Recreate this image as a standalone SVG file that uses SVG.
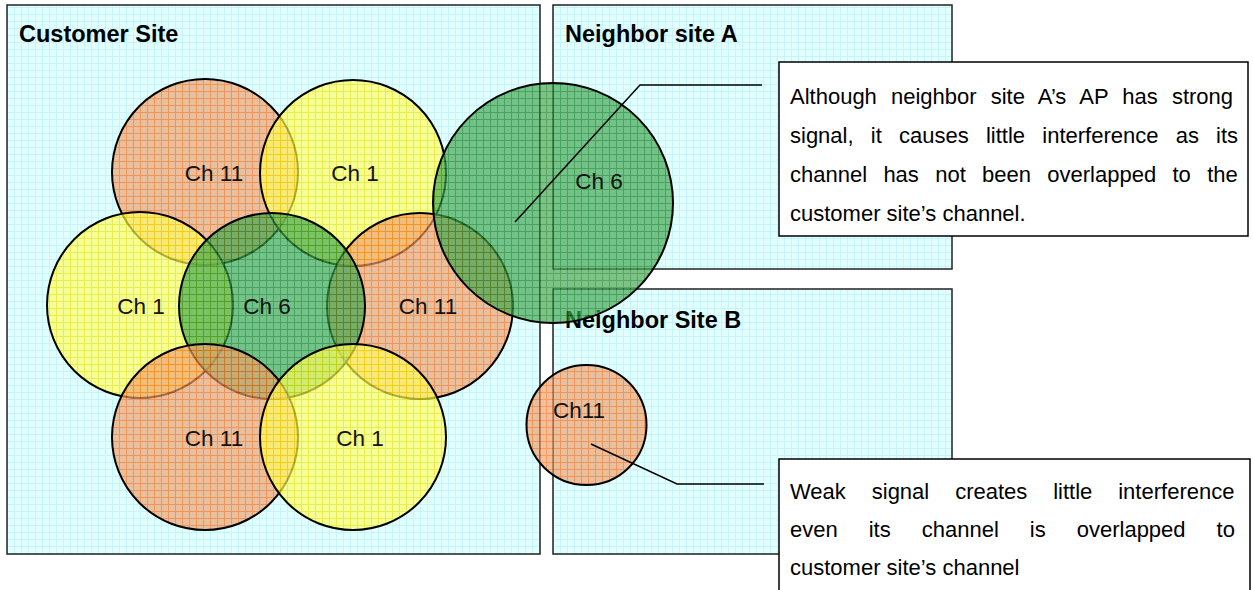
<svg xmlns="http://www.w3.org/2000/svg" width="1253" height="590" viewBox="0 0 1253 590">
<defs>
<pattern id="pBg" width="7" height="7" patternUnits="userSpaceOnUse">
<rect width="7" height="7" fill="#e2ffff"/>
<path d="M0 0.5H7M0.5 0V7" stroke="#c6f4f8" stroke-width="1"/>
</pattern>
<pattern id="pOr" width="7" height="7" patternUnits="userSpaceOnUse">
<rect width="7" height="7" fill="#eea16f"/>
<path d="M0 0.5H7M0.5 0V7" stroke="#ff6a10" stroke-width="1"/>
</pattern>
<pattern id="pYe" width="7" height="7" patternUnits="userSpaceOnUse">
<rect width="7" height="7" fill="#ffff60"/>
<path d="M0 0.5H7M0.5 0V7" stroke="#f8e800" stroke-width="1"/>
</pattern>
<pattern id="pGr" width="7" height="7" patternUnits="userSpaceOnUse">
<rect width="7" height="7" fill="#3fa64f"/>
<path d="M0 0.5H7M0.5 0V7" stroke="#107a18" stroke-width="1"/>
</pattern>
</defs>
<style>
.box{fill:url(#pBg);stroke:#222;stroke-width:1.5}
.title{font-family:"Liberation Sans",Arial,sans-serif;font-size:23.5px;font-weight:bold;fill:#000}
.lbl{font-family:"Liberation Sans",Arial,sans-serif;font-size:22.5px;fill:#111;text-anchor:middle}
.c{stroke:#000;stroke-width:2;fill-opacity:0.68}
.or{fill:url(#pOr)}
.ye{fill:url(#pYe)}
.gr{fill:url(#pGr)}
.call{fill:#fff;stroke:#000;stroke-width:1.5}
.ct{font-family:"Liberation Sans",Arial,sans-serif;font-size:22px;fill:#000}
.lead{fill:none;stroke:#000;stroke-width:1.5}
</style>
<rect width="1253" height="590" fill="#fff"/>
<g id="customer-site"><rect class="box" x="7" y="5" width="533" height="549"/><text class="title" x="19" y="42">Customer Site</text></g>
<g id="neighbor-a"><rect class="box" x="553" y="5" width="399" height="264"/><text class="title" x="565" y="42">Neighbor site A</text></g>
<g id="neighbor-b"><rect class="box" x="553" y="289" width="399" height="265"/><text class="title" x="565" y="328">Neighbor Site B</text></g>
<g id="c-tl"><circle class="c or" cx="205" cy="172" r="93"/></g>
<g id="c-tc"><circle class="c ye" cx="353" cy="173" r="93"/></g>
<g id="c-l"><circle class="c ye" cx="140" cy="305" r="93"/></g>
<g id="c-r"><circle class="c or" cx="420" cy="306" r="93"/></g>
<g id="c-6"><circle class="c gr" cx="272" cy="306" r="93"/></g>
<g id="c-bl"><circle class="c or" cx="205" cy="437" r="93"/></g>
<g id="c-bc"><circle class="c ye" cx="353" cy="437" r="93"/></g>
<g id="c-a"><circle class="c gr" cx="553" cy="203" r="120"/></g>
<g id="c-b"><circle class="c or" cx="586.5" cy="425" r="60"/></g>
<g id="circle-labels">
<text class="lbl" x="214" y="181">Ch 11</text>
<text class="lbl" x="355" y="181">Ch 1</text>
<text class="lbl" x="141" y="314">Ch 1</text>
<text class="lbl" x="267" y="314">Ch 6</text>
<text class="lbl" x="428" y="314">Ch 11</text>
<text class="lbl" x="214" y="446">Ch 11</text>
<text class="lbl" x="360" y="446">Ch 1</text>
<text class="lbl" x="599" y="189">Ch 6</text>
<text class="lbl" x="579" y="418">Ch11</text>
</g>
<g id="connectors">
<polyline class="lead" points="515,222 640,85 762,85"/>
<polyline class="lead" points="591,444 677,484 764,484"/>
</g>
<g id="callout-a">
<rect class="call" x="779" y="62" width="469" height="174"/>
<text class="ct" x="790" y="104" word-spacing="8">Although neighbor site A’s AP has strong</text>
<text class="ct" x="790" y="143" word-spacing="11.1">signal, it causes little interference as its</text>
<text class="ct" x="790" y="182" word-spacing="10.2">channel has not been overlapped to the</text>
<text class="ct" x="790" y="221">customer site’s channel.</text>
</g>
<g id="callout-b">
<rect class="call" x="779" y="459" width="471" height="140"/>
<text class="ct" x="790" y="499" word-spacing="19.8">Weak signal creates little interference</text>
<text class="ct" x="790" y="537" word-spacing="24.9">even its channel is overlapped to</text>
<text class="ct" x="790" y="575">customer site’s channel</text>
</g>
</svg>
